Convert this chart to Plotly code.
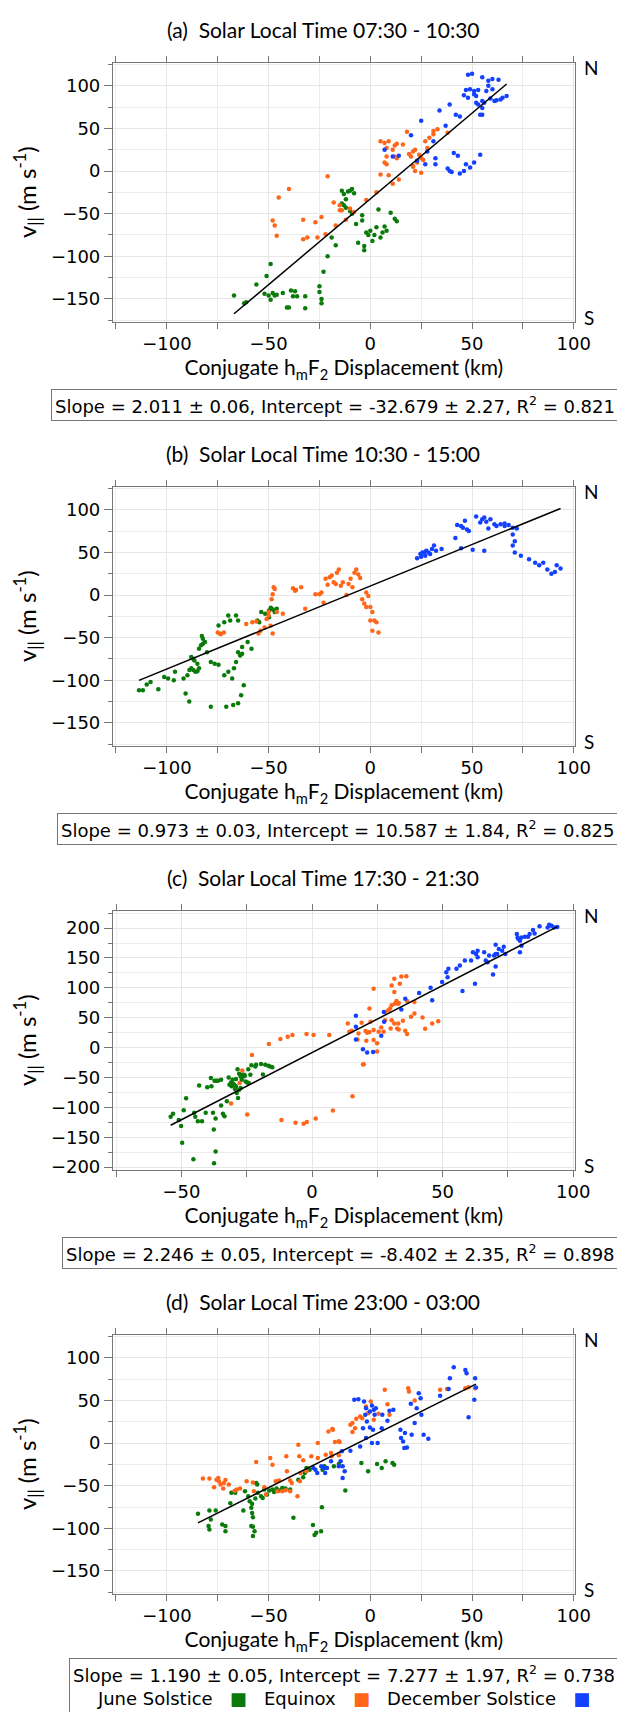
import plotly.graph_objects as go

# ---------------- data ----------------
SERIES_NAMES = ["June Solstice", "Equinox", "December Solstice"]
SERIES_COLORS = ["#0a7a0a", "#ff661a", "#1440ff"]

PANEL_TITLES = [
    "(a)\u00a0 Solar Local Time 07:30 - 10:30",
    "(b)\u00a0 Solar Local Time 10:30 - 15:00",
    "(c)\u00a0 Solar Local Time 17:30 - 21:30",
    "(d)\u00a0 Solar Local Time 23:00 - 03:00",
]
SLOPES = [2.011, 0.973, 2.246, 1.190]
SLOPE_ERR = [0.06, 0.03, 0.05, 0.05]
INTERCEPTS = [-32.679, 10.587, -8.402, 7.277]
INTERCEPT_ERR = [2.27, 1.84, 2.35, 1.97]
R2 = [0.821, 0.825, 0.898, 0.738]
X_RANGES = [[-126.5, 100.5], [-126.5, 100.5], [-76.2, 100.6], [-126.5, 100.5]]
Y_RANGES = [[-176.5, 127], [-176.5, 127], [-204, 229], [-176.5, 127]]

# (a) 07:30 - 10:30
A_GREEN = [(-67,-146),(-62,-155),(-61,-154),(-56,-133),(-51,-123),(-49,-109),(-52,-144),(-50,-146),(-49,-151),(-47,-146),
           (-48,-143),(-46,-145),(-43,-143),(-41,-160),(-40,-160),(-39,-140),(-37,-141),(-38,-147),(-36,-147),(-32,-147),
           (-32,-161),(-25,-135),(-25,-142),(-24,-150),(-24,-155),(-23,-118),(-21,-100),(-17,-87),(-19,-78),(-14,-23),
           (-13,-27),(-12,-33),(-11,-24),(-10,-23),(-9,-21),(-8,-26),(-14,-38),(-13,-40),(-12,-43),(-10,-47),
           (-9,-50),(-7,-62),(-4,-58),(-2,-72),(0,-70),(3,-66),(5,-78),(6,-72),(7,-65),(-6,-84),
           (-3,-88),(-1,-75),(1,-82),(-3,-93),(4,-45),(10,-49),(12,-56),(13,-59),(-4,-52),(2,-75),(8,-70)]
A_ORANGE = [(5,35),(7,33),(9,35),(12,30),(13,32),(16,31),(11,25),(8,27),(8,17),(12,17),
            (13,15),(19,20),(20,17),(21,23),(22,25),(24,19),(25,15),(21,6),(23,10),(22,0),
            (25,-2),(21,5),(26,13),(27,35),(29,39),(31,47),(33,49),(31,43),(18,46),(28,27),
            (38,45),(5,-4),(9,-5),(11,-15),(14,-10),(7,10),(8,8),(3,-25),(-2,-34),(-21,-6),
            (-40,-21),(-45,-31),(-48,-58),(-47,-64),(-46,-76),(-33,-57),(-33,-80),(-31,-78),(-26,-78),(-27,-60),
            (-24,-54),(-18,-37),(-15,-46),(-15,-40),(-14,-46),(-12,-57),(-22,-74),(-17,-64),(-10,-44),(-8,-48)]
A_BLUE = [(48,113),(50,114),(55,110),(58,106),(60,108),(63,107),(47,95),(49,96),(51,94),(53,95),
          (46,89),(48,86),(51,90),(52,80),(53,78),(55,82),(56,80),(57,94),(59,85),(60,96),
          (62,83),(65,86),(67,88),(55,74),(55,66),(34,71),(39,78),(42,66),(44,64),(25,59),
          (20,42),(31,35),(37,53),(7,25),(11,17),(14,18),(23,12),(27,8),(28,23),(32,15),
          (32,8),(38,3),(39,0),(40,-1),(41,21),(43,18),(44,-3),(46,0),(47,8),(49,4),
          (51,10),(54,19),(61,82),(64,84),(54,66),(58,100),(52,88)]

# (b) 10:30 - 15:00
B_GREEN = [(-113.7,-111.7),(-111.8,-111.7),(-109.9,-105),(-108,-102),(-104.2,-110.5),(-101.3,-96),(-99.4,-98),(-96.6,-100),
           (-96,-90),(-91.8,-98),(-89.9,-94),(-88.9,-88),(-88,-86),(-87,-88),(-86,-90),(-85,-89.5),(-84.2,-86),(-85,-80.5),
           (-86.5,-76.7),(-88,-72.8),(-87,-74.7),(-84.2,-63),(-83.2,-59),(-82.3,-57),(-81.3,-55),(-82.3,-51.4),(-82.8,-48),
           (-80.3,-67),(-78.4,-78.6),(-76.5,-80.5),(-74.6,-81.7),(-71.8,-94),(-69.8,-90),(-67.9,-98),(-67,-86),(-66,-78.6),
           (-65,-67),(-64,-70.8),(-63,-69),(-62.2,-105.8),(-63.5,-117.5),(-65,-127),(-67.4,-129),(-70.8,-131),(-78.4,-131),
           (-89,-125),(-90.8,-115.6),(-74.6,-35.8),(-73.7,-45.5),(-71.8,-32),(-69.8,-24),(-68.9,-30),(-66,-24),(-65,-30),
           (-63,-61),(-60.3,-55),(-58.4,-63),(-55.5,-30),(-53.6,-20),(-51.7,-22),(-49.8,-18),(-48.9,-15),(-47.9,-17),
           (-47,-20),(-46,-16),(-49.8,-26),(-54.6,-32)]
B_ORANGE = [(-75,-44),(-73.5,-46),(-72,-44),(-61,-34),(-58,-32),(-56,-31),(-55,-45),(-54,-42),(-52,-38),(-51,-28),
            (-50,-24),(-49,-36),(-48,-45),(-50,-20),(-48.5,-5),(-48,1),(-47,7),(-47.5,9),(-43,-22),(-46,-20),
            (-38,8),(-36.5,6),(-34,9),(-37,5),(-32,-16),(-27,1),(-25,1),(-24,3),(-23,-9),(-22,19),
            (-21,12),(-20,21),(-19,23),(-18,15),(-17,13),(-16.4,26),(-15.5,30),(-14.5,11),(-13.5,15),(-11.7,0),
            (-10.7,13),(-9.7,19),(-8.8,9),(-7.8,26),(-6.9,30),(-5.9,24),(-5,20),(-4,-5),(-3,-10),(-2,3),
            (-1,-1),(-2,-14),(0,-14),(1,-20),(2,-30),(3,-32),(4,-44),(1,-42),(0,-30)]
B_BLUE = [(23,43),(24.6,48),(25.6,50),(26.5,50),(27.5,52),(27,46),(29.4,48),(30.3,54),(31.3,58),(32.3,52),
          (35,54),(25,45),(28.6,50),(41.8,67),(42.7,82),(44.6,81),(45.5,79),(46.5,87),(47.5,77),(48.4,75),
          (44.6,55),(50.3,53),(54,85),(55,89),(56,91),(57,86),(59,89),(61,83),(62,81),(64,83),
          (66,81),(68,82),(70,79),(72,78),(56,52),(70,71),(71,63),(70,58),(71,50),(74,46),
          (78,42),(81,38),(83,35),(85,38),(87,30),(89,25),(90.7,27),(91.6,35),(93.5,31),(52,92),
          (58,78),(66,84)]

# (c) 17:30 - 21:30
C_GREEN = [(-54.1,-115.8),(-53.2,-110.8),(-51,-121.3),(-50.1,-131.3),(-49.1,-104.7),(-48.2,-84.8),(-45.1,-109.1),
           (-44.7,-115.8),(-43.7,-123),(-42.1,-123),(-43.2,-63.2),(-40.7,-109.1),(-40.1,-66.5),(-38.5,-64.8),
           (-38.7,-51),(-37.3,-55.4),(-36.6,-55.4),(-36,-55.4),(-34.8,-53.8),(-37.9,-109.1),(-36.9,-118.5),
           (-34.8,-96.9),(-34.1,-110.8),(-33.5,-114.7),(-32.6,-89.7),(-31.9,-49.9),(-31,-58.2),(-30.8,-64.8),
           (-30.2,-60.4),(-29.8,-62.1),(-29.1,-64.8),(-29.5,-69.3),(-28.8,-75.9),(-28.3,-84.2),(-28.5,-36),
           (-27.9,-43.8),(-27.3,-48.2),(-26.9,-53.8),(-26.7,-45.5),(-26.3,-48.2),(-26,-45.5),(-25.7,-47.1),
           (-25.4,-56.5),(-24.8,-58.2),(-24.2,-59.3),(-24.4,-36),(-23.6,-45.5),(-23.2,-29.4),(-21.7,-31.6),
           (-21.4,-28.8),(-19.5,-27.2),(-18.8,-44.9),(-17.9,-28.8),(-16.7,-30.5),(-16.1,-31.6),(-15.2,-32.7),
           (-29.1,-52.7),(-30.4,-53.8),(-31.6,-62.1),(-27.9,-70.4),(-27.3,-67.6),(-37.6,-136.8),(-49.7,-159),
           (-45.4,-186.7),(-36.9,-174),(-37.5,-193.3)]
C_ORANGE = [(31.5,115.2),(34.2,119),(36.1,119.6),(33.6,106.9),(30.5,104.1),(23.6,98.6),(31.5,93),(32.3,78.1),
            (33,73.6),(31.7,73.6),(33.2,74.8),(30.5,70.9),(29.9,65.3),(29.2,62.6),(28,59.8),(22,65.3),
            (36.4,78.1),(39.2,76.4),(39.2,57),(37.9,51.5),(34.8,44.9),(33,40.4),(31.5,40.4),(30.5,46),
            (28,46),(30.1,32.1),(32.6,32.1),(33.2,30.5),(35.7,28.2),(36.4,22.7),(26.5,33.8),(25.5,26.6),
            (23.6,29.3),(22.4,43.2),(22,26),(21.1,24.9),(20.5,27.7),(14.3,26.6),(15.2,28.2),(13.7,40.4),
            (19,41.5),(17.8,23.8),(17.4,13.8),(20.8,11.6),(23.6,12.7),(24.9,7.2),(24.9,-6.6),(19.5,-28.2),
            (43.3,31.6),(46,40.4),(48.3,44.3),(42.3,50.4),(27.4,26.6),(6.6,21),(0.6,21),(-2.1,22.7),
            (-7.5,21),(-9.3,18.3),(-12.1,14.4),(-16.5,6.1),(-23,-12.2),(-26.7,-38.2),(-27.7,-59.2),
            (-31,-93.6),(-24.8,-111.9),(-11.7,-121.3),(-6.3,-125.7),(-3.2,-127.4),(-2,-124.6),(1.4,-118.6),
            (8,-105.3),(15.5,-81.4),(19.8,-27.7)]
C_BLUE = [(90.8,205.4),(91.7,203.8),(92.7,201),(93.9,202),(90.2,201),(87.1,203.2),(84.6,196.6),(83.3,190),
          (85.2,191),(82.7,185.5),(81.5,185.5),(80.2,184.4),(79.6,178.8),(79,181.6),(78.4,190),(78.7,184.4),
          (80.2,170.5),(79.6,159.5),(73.4,168.9),(72.8,162.2),(74,156.7),(71.5,165),(70.9,156.7),(70.3,156.7),
          (69.7,154),(67.8,154),(67.2,142.9),(66.5,145.6),(65.9,159.5),(63.4,162.2),(62.8,156.7),(61.6,159.5),
          (63.4,151.2),(60.9,145.6),(58.5,145.6),(56.6,137.3),(55.3,131.8),(52.2,131.8),(51.4,126.2),(51.9,117.9),
          (49.8,109.6),(45.4,100.2),(41,91.4),(57.6,94.7),(62.4,106.9),(69.3,122.4),(70.3,135.7),(70.3,172.2),
          (46,79.2),(35.7,81.9),(34.2,63.7),(27.5,59.8),(27.6,43.2),(26.5,19.9),(16.8,53.2),(16.8,34.9),
          (16.8,13.8),(19.5,-2.8),(21.1,-8.3),(23.4,-7.2)]

# (d) 23:00 - 03:00
D_GREEN = [(-84.7,-83),(-79.1,-79.1),(-79.1,-101.3),(-79.5,-97.4),(-78.4,-89.6),(-76,-79.1),(-72.8,-95.4),(-71.2,-97.4),
           (-71.2,-103.3),(-68.8,-70.5),(-68.3,-58.4),(-66.4,-58.4),(-62.4,-79.1),(-61.6,-56.5),(-60,-62.3),(-58.5,-97.4),
           (-57.7,-98.2),(-57.7,-109.1),(-59.3,-68.2),(-58.1,-71.3),(-58.5,-76),(-58.1,-81.9),(-57.7,-86.9),(-56.9,-103.3),
           (-56.5,-65),(-56.1,-46.8),(-55.6,-48.7),(-55.3,-58.4),(-53.7,-62.3),(-52.9,-64.3),(-52.1,-54.6),(-50.8,-60.4),
           (-49.7,-55.7),(-48.1,-54.6),(-47.3,-57.3),(-46.1,-53.4),(-44.9,-55.7),(-43.3,-52.6),(-41.7,-53.4),(-39.4,-54.6),
           (-37.8,-87.7),(-35.4,-42.9),(-33,-40.1),(-32.2,-35),(-31.4,-29.2),(-30.6,-30),(-29.8,-31.2),(-28.2,-96.2),
           (-27.4,-107.9),(-26.6,-105.2),(-24.2,-103.3),(-23.8,-75.2),(-23.5,-31.2),(-22.6,-27.3),(-21.9,-29.2),
           (-17.9,-27.3),(-15.5,-24.5),(-12.3,-55.7),(-4.4,-23.4),(-1.1,-33.1),(3.3,-24.6),(5.6,-29.2),(7.5,-21.4),
           (10.9,-23.4),(11.7,-25.3)]
D_ORANGE = [(48.3,65.5),(46.7,64.3),(51.5,64.3),(34.3,62.4),(37.7,63.5),(21.8,49.9),(18.6,64.3),(19,60.4),
            (7.1,62.4),(0.2,48.7),(8.4,45.6),(9.4,33.1),(4,34.3),(1.7,27.3),(-2.1,42.9),(-1.1,35.1),
            (-5,31.2),(-4,29.2),(-6.9,28.5),(-8.8,23.4),(-7.5,17.5),(-8.8,12.9),(-9.8,21.4),(-18.4,15.6),
            (-15.1,1.2),(-17.4,1.2),(-19.3,-11.7),(-19,-15.6),(-82.3,-41.7),(-79.1,-41.7),(-75.6,-42.9),(-74.7,-40.9),
            (-74.4,-44.8),(-73.6,-48.7),(-72,-46.8),(-71.2,-43.2),(-69.6,-48.7),(-72.3,-53.4),(-76.8,-51.8),(-66.7,-55.8),
            (-65.6,-54.6),(-64,-53.4),(-60.8,-44.8),(-56.1,-22.2),(-57.2,-56.5),(-57.7,-46.4),(-52.1,-51.8),(-49.2,-17.5),
            (-48.1,-25.3),(-51.3,-60.4),(-46.5,-44.8),(-45.7,-56.5),(-44.9,-44),(-43.3,-56.5),(-41.7,-55.4),(-39.4,-56.5),
            (-39.4,-44),(-41,-33.2),(-38.6,-46.8),(-35.4,-1.9),(-33,-20.2),(-34.6,-44.8),(-35.8,-62.4),(-31.4,-33.2),
            (-34.9,-15.6),(-41.3,-15.6),(-34.3,-35.1),(-29,-15.6),(-25.8,0),(-25.8,-17.5),(-21.9,-13.6),(-20.6,13.7),
            (-18.7,16.4),(-15.5,2),(-15.5,-14.4)]
D_BLUE = [(41,88.9),(39.1,76),(46.7,85.8),(47.3,81.9),(51.5,76),(51.9,65.1),(51.1,50.7),(48.3,30.4),
          (38.5,63.5),(34.3,55.4),(23.8,58.5),(24.7,52.6),(19.9,46),(22.8,40.9),(25.1,33.1),(21.8,23.4),
          (20.3,9.7),(17,11.7),(16.1,1.9),(16.7,-5.8),(18,-5.1),(14.8,15.6),(15.1,5.8),(28.5,5.1),
          (26.2,9.7),(9.4,37.8),(11.3,39),(5.9,33.1),(8.4,26.1),(5.6,17.5),(1.3,15.6),(3.6,0),
          (0.8,0),(-5,-3.9),(-2.1,5.8),(-7.9,50.7),(-5.9,51.5),(-3.1,48.7),(-2.1,40.9),(-0.2,37),
          (0.8,44.1),(1.7,39),(2.1,33.1),(2.7,40.9),(-2.5,33.1),(-1.7,25.3),(-0.2,18.3),(-3.6,17.5),
          (-9.8,-9),(-14,-9.7),(-14.6,-21.4),(-13.6,-27.3),(-12.6,-33.1),(-13.6,-40.9),(-15.5,-27.3),(-19.3,-21.4),
          (-21.3,-29.2),(-22.8,-29.2),(-24.1,-27.3),(-26.1,-35.1),(-27,-31.2),(-28,-29.2),(-22.2,-35.1)]

PANEL_SERIES = [
    [A_GREEN, A_ORANGE, A_BLUE],
    [B_GREEN, B_ORANGE, B_BLUE],
    [C_GREEN, C_ORANGE, C_BLUE],
    [D_GREEN, D_ORANGE, D_BLUE],
]

# ---------------- layout geometry (pixels) ----------------
W, H = 625, 1712
PLOT_LEFT, PLOT_RIGHT = 107.7, 581.7
PANEL_TOP0, PANEL_STEP, PANEL_H = 55, 426, 260
FONT = "DejaVu Sans"
TITLE_FONT = "Lato"
AXIS_GREY = "#777777"


def fx(p):
    return p / W


def fy(p):
    return 1 - p / H


fig = go.Figure()
annotations = []

for k in range(4):
    top = PANEL_TOP0 + k * PANEL_STEP
    bot = top + PANEL_H
    xa = "x" if k == 0 else f"x{k+1}"
    ya = "y" if k == 0 else f"y{k+1}"
    xkey = "xaxis" if k == 0 else f"xaxis{k+1}"
    ykey = "yaxis" if k == 0 else f"yaxis{k+1}"

    all_x = []
    for name, color, pts in zip(SERIES_NAMES, SERIES_COLORS, PANEL_SERIES[k]):
        xs = [p[0] for p in pts]
        ys = [p[1] for p in pts]
        all_x += xs
        fig.add_trace(go.Scatter(
            x=xs, y=ys, mode="markers", name=name, showlegend=False,
            marker=dict(color=color, size=4.5, line=dict(width=0)),
            xaxis=xa, yaxis=ya, legendgroup=name,
        ))
    # least-squares fit line drawn across the data range
    x0, x1 = min(all_x), max(all_x)
    fig.add_trace(go.Scatter(
        x=[x0, x1], y=[SLOPES[k] * x0 + INTERCEPTS[k], SLOPES[k] * x1 + INTERCEPTS[k]],
        mode="lines", line=dict(color="black", width=1.5), showlegend=False,
        xaxis=xa, yaxis=ya, hoverinfo="skip",
    ))

    common = dict(showline=True, linecolor=AXIS_GREY, linewidth=1, ticks="outside",
                  tickcolor=AXIS_GREY, showgrid=True, gridcolor="#e6e6e6", gridwidth=1,
                  zeroline=False, tickfont=dict(family=FONT, size=18, color="black"))
    fig.layout[xkey] = dict(
        common, domain=[fx(PLOT_LEFT), fx(PLOT_RIGHT)], range=X_RANGES[k], anchor=ya,
        tick0=0, dtick=50, ticklen=6, mirror="ticks",
        minor=dict(tick0=0, dtick=25, ticks="outside", ticklen=6, tickcolor=AXIS_GREY,
                   showgrid=True, gridcolor="#ececec"),
        title=dict(text="Conjugate h<sub>m</sub>F<sub>2</sub> Displacement (km)",
                   font=dict(family=TITLE_FONT, size=21, color="black"), standoff=4),
    )
    fig.layout[ykey] = dict(
        common, domain=[fy(bot), fy(top)], range=Y_RANGES[k], anchor=xa,
        tick0=0, dtick=50, ticklen=8, mirror=True,
        minor=dict(tick0=0, dtick=25, ticks="outside", ticklen=4, tickcolor=AXIS_GREY,
                   showgrid=True, gridcolor="#ececec"),
        title=dict(text="v<sub>||</sub> (m s<sup>-1</sup>)",
                   font=dict(family=TITLE_FONT, size=24, color="black"), standoff=7),
    )

    # panel title
    annotations.append(dict(x=fx(323.5), y=fy(top - 33.3), xref="paper", yref="paper",
                            text=PANEL_TITLES[k], showarrow=False, xanchor="center", yanchor="middle",
                            font=dict(family=TITLE_FONT, size=21, color="black")))
    # N / S hemisphere markers
    annotations.append(dict(x=fx(589), y=fy(top + 5), xref="paper", yref="paper", text="N",
                            showarrow=False, xanchor="left", yanchor="middle",
                            font=dict(family=TITLE_FONT, size=19, color="black")))
    annotations.append(dict(x=fx(589), y=fy(bot - 4), xref="paper", yref="paper", text="S",
                            showarrow=False, xanchor="left", yanchor="middle",
                            font=dict(family=TITLE_FONT, size=19, color="black")))
    # statistics box (legend included in the last one)
    stats = (f"Slope = {SLOPES[k]:.3f} ± {SLOPE_ERR[k]:.2f}, "
             f"Intercept = {INTERCEPTS[k]:.3f} ± {INTERCEPT_ERR[k]:.2f}, "
             f"R<sup>2</sup> = {R2[k]:.3f}")
    if k == 3:
        gap = "\u00a0" * 3
        legend_line = gap.join(
            f"{name}{gap}<span style='color:{color}'>\u25a0</span>"
            for name, color in zip(SERIES_NAMES, SERIES_COLORS)
        )
        text = stats + "<br>" + legend_line
        ytop = bot + 64.3
    else:
        text = stats
        ytop = bot + 67.7
    annotations.append(dict(x=fx(627), y=fy(ytop), xref="paper", yref="paper", text=text,
                            showarrow=False, xanchor="right", yanchor="top", align="center",
                            bordercolor=AXIS_GREY, borderwidth=1, borderpad=3,
                            font=dict(family=FONT, size=18, color="black")))

fig.update_layout(
    width=W, height=H, margin=dict(l=0, r=0, t=0, b=0),
    paper_bgcolor="white", plot_bgcolor="white",
    showlegend=False, annotations=annotations,
    font=dict(family=FONT, color="black"),
)

fig.write_html("out.html")
